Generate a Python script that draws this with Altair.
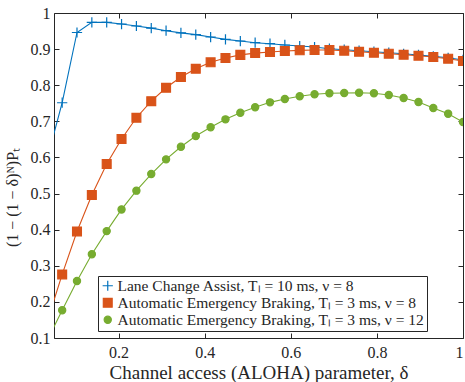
import altair as alt
import pandas as pd

# ---- data ----
delta = [0.0345, 0.069, 0.1034, 0.1379, 0.1724, 0.2069, 0.2414, 0.2759, 0.3103, 0.3448,
         0.3793, 0.4138, 0.4483, 0.4828, 0.5172, 0.5517, 0.5862, 0.6207, 0.6552, 0.6897,
         0.7241, 0.7586, 0.7931, 0.8276, 0.8621, 0.8966, 0.931, 0.9655, 1.0]

lca = [0.598, 0.7515, 0.946, 0.974, 0.974, 0.9695, 0.964, 0.958, 0.951, 0.945,
       0.940, 0.9335, 0.927, 0.9224, 0.9177, 0.915, 0.9114, 0.9086, 0.9058, 0.9011,
       0.8983, 0.8956, 0.8928, 0.890, 0.887, 0.8837, 0.880, 0.876, 0.870]

aeb8 = [0.147, 0.276, 0.395, 0.4958, 0.5817, 0.651, 0.710, 0.7558, 0.793, 0.8227,
        0.8457, 0.8634, 0.8753, 0.8841, 0.889, 0.892, 0.8947, 0.8966, 0.8975, 0.8975,
        0.8956, 0.8928, 0.890, 0.8873, 0.8845, 0.8817, 0.878, 0.8735, 0.867]

aeb12 = [0.0935, 0.177, 0.258, 0.332, 0.396, 0.456, 0.508, 0.554, 0.5947, 0.6296,
         0.6593, 0.6834, 0.7055, 0.7238, 0.7388, 0.7526, 0.7618, 0.7693, 0.7748, 0.7776,
         0.7784, 0.7792, 0.7776, 0.7729, 0.7645, 0.7535, 0.7368, 0.7211, 0.698]

series_names = [
    "Lane Change Assist, Tₗ = 10 ms, ν = 8",
    "Automatic Emergency Braking, Tₗ = 3 ms, ν = 8",
    "Automatic Emergency Braking, Tₗ = 3 ms, ν = 12",
]
series_colors = ["#0072BD", "#D95319", "#77AC30"]
series_shapes = ["M-1,0L1,0M0,-1L0,1", "square", "circle"]
series_sizes = [105, 52, 58]

x_ticks = [0.2, 0.4, 0.6, 0.8, 1.0]
y_ticks = [0.1, 0.2, 0.3, 0.4, 0.5, 0.6, 0.7, 0.8, 0.9, 1.0]

rows = []
for name, vals in zip(series_names, [lca, aeb8, aeb12]):
    for d, v in zip(delta, vals):
        rows.append({"delta": d, "value": v, "series": name})
df = pd.DataFrame(rows)

W, H = 409, 325
FONT = "Liberation Serif"
AX = "#262626"

xs = alt.Scale(domain=[0.05, 1.0], nice=False, zero=False)
ys = alt.Scale(domain=[0.1, 1.0], nice=False, zero=False)
stroke_scale = alt.Scale(domain=series_names, range=series_colors)
shape_scale = alt.Scale(domain=series_names, range=series_shapes)
size_scale = alt.Scale(domain=series_names, range=series_sizes)

base = alt.Chart(df)

main_x_axis = alt.Axis(orient="bottom", values=x_ticks, format="~g", ticks=False, domain=False,
                       grid=False, labelPadding=6, title="Channel access (ALOHA) parameter, δ",
                       titlePadding=3, titleFontSize=19)
main_y_axis = alt.Axis(orient="left", values=y_ticks, format=".1~f", ticks=False, domain=False,
                       grid=False, labelPadding=4, title="(1 − (1 − δ)ᴺ)Pₜ",
                       titleFontSize=16, titleX=-34, titleY=184, titleAngle=-90,
                       titleAlign="center", titleBaseline="bottom")

lines = base.mark_line(clip=True, strokeWidth=1.1).encode(
    x=alt.X("delta:Q", scale=xs, axis=main_x_axis),
    y=alt.Y("value:Q", scale=ys, axis=main_y_axis),
    stroke=alt.Stroke("series:N", scale=stroke_scale, sort=series_names,
                      legend=alt.Legend(title=None)),
    detail="series:N",
)

points = base.mark_point(clip=True, filled=False, strokeWidth=1.2, opacity=1, fillOpacity=1).encode(
    x=alt.X("delta:Q", scale=xs, axis=None),
    y=alt.Y("value:Q", scale=ys, axis=None),
    stroke=alt.Stroke("series:N", scale=stroke_scale, sort=series_names,
                      legend=alt.Legend(title=None)),
    fill=alt.Fill("series:N", scale=stroke_scale, sort=series_names,
                  legend=alt.Legend(title=None)),
    shape=alt.Shape("series:N", scale=shape_scale, sort=series_names,
                    legend=alt.Legend(title=None)),
    size=alt.Size("series:N", scale=size_scale, sort=series_names,
                  legend=alt.Legend(title=None)),
)

tick_common = dict(labels=False, domain=False, grid=False, title=None, tickSize=5,
                   tickColor=AX, tickWidth=1)
ticks_a = base.mark_point(opacity=0).encode(
    x=alt.X("delta:Q", scale=xs, axis=alt.Axis(orient="top", offset=-H, values=x_ticks, **tick_common)),
    y=alt.Y("value:Q", scale=ys, axis=alt.Axis(orient="right", offset=-W, values=y_ticks, **tick_common)),
)
ticks_b = base.mark_point(opacity=0).encode(
    x=alt.X("delta:Q", scale=xs, axis=alt.Axis(orient="bottom", offset=-H, values=x_ticks, **tick_common)),
    y=alt.Y("value:Q", scale=ys, axis=alt.Axis(orient="left", offset=-W, values=y_ticks, **tick_common)),
)

chart = alt.layer(lines, points, ticks_a, ticks_b).resolve_axis(
    x="independent", y="independent"
).properties(
    width=W, height=H,
    autosize=alt.AutoSizeParams(type="none"),
    padding={"left": 54, "top": 13, "right": 2, "bottom": 44},
    background="white",
).configure_view(
    stroke=AX, strokeWidth=1
).configure_axis(
    labelFont=FONT, titleFont=FONT, labelFontSize=16,
    labelColor=AX, titleColor=AX, titleFontWeight="normal",
).configure_legend(
    orient="none", legendX=44, legendY=263,
    labelFont=FONT, labelFontSize=15.5, labelColor=AX, labelLimit=500,
    strokeColor=AX, fillColor="white", padding=2, rowPadding=-1.5,
    symbolSize=55, symbolStrokeWidth=1.2, labelOffset=2, cornerRadius=0,
)

chart.save("out.html", embed_options={"renderer": "svg", "actions": False})
